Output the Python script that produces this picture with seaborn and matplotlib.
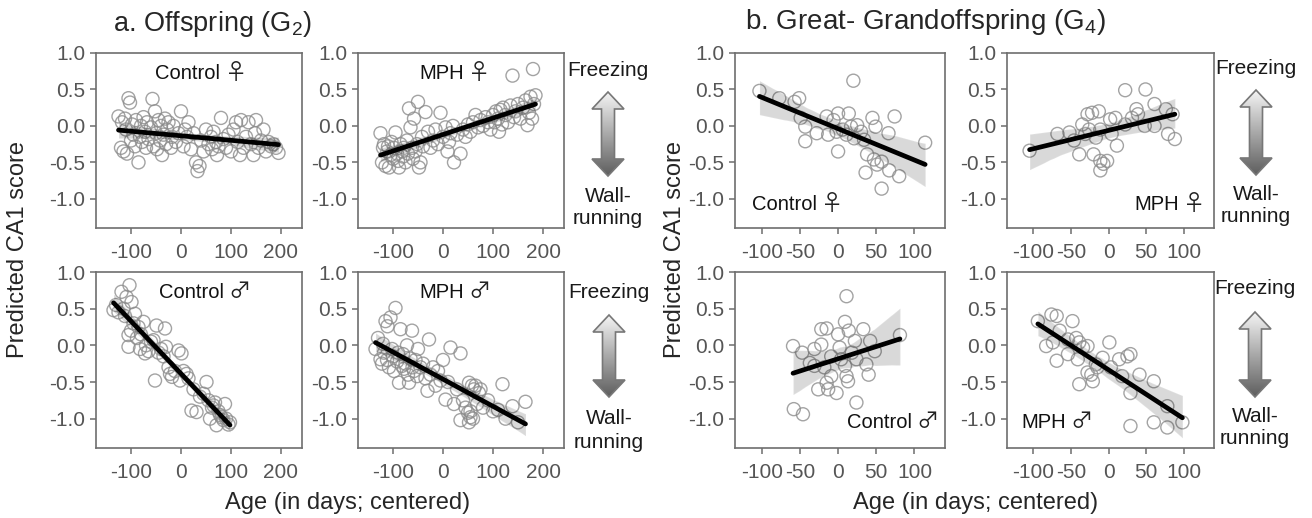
import numpy as np
import matplotlib
matplotlib.use("Agg")
import matplotlib.pyplot as plt
from matplotlib.colors import LinearSegmentedColormap
from matplotlib.patches import Polygon
from matplotlib.offsetbox import TextArea, HPacker, AnnotationBbox
import seaborn as sns

# ---- datos (edad centrada en dias, puntaje CA1 predicho) ----
# a. Offspring (G2)
g2_ctrl_f_x = [-125, -120, -118, -115, -112, -110, -108, -105, -102, -100,
               -98, -95, -92, -90, -85, -82, -80, -78, -75, -72,
               -70, -68, -65, -60, -57, -55, -52, -50, -48, -45,
               -42, -40, -38, -35, -32, -30, -28, -25, -20, -18,
               -15, -10, -5, 0, 5, 8, 12, 15, 20, 25,
               30, 33, 37, 40, 45, 50, 55, 60, 62, 65,
               70, 72, 75, 80, 85, 90, 95, 100, 105, 110,
               113, 118, 120, 125, 130, 135, 140, 145, 148, 150,
               155, 160, 165, 170, 175, 180, 185, 190, 195]
g2_ctrl_f_y = [0.13, -0.30, 0.05, -0.35, 0.10, -0.05, -0.38, 0.38, 0.32, -0.20,
               0.02, -0.12, -0.28, 0.08, -0.50, -0.15, 0.00, -0.22, 0.12, -0.08,
               -0.30, 0.05, -0.18, -0.02, 0.37, -0.28, 0.20, -0.10, -0.32, 0.08,
               -0.20, 0.00, -0.40, -0.12, 0.10, -0.25, -0.05, 0.05, -0.30, -0.15,
               0.00, -0.22, -0.10, 0.20, -0.28, -0.05, -0.15, 0.05, -0.32, -0.10,
               -0.50, -0.62, -0.55, -0.20, -0.35, -0.05, -0.25, -0.15, -0.32, -0.08,
               -0.22, -0.40, -0.28, 0.11, -0.18, -0.30, -0.12, -0.35, -0.05, 0.05,
               -0.22, -0.40, 0.08, -0.30, -0.15, 0.05, -0.25, -0.40, -0.10, 0.08,
               -0.30, -0.20, -0.05, -0.35, -0.22, -0.28, -0.25, -0.30, -0.37]

g2_mph_f_x = [-125, -122, -120, -118, -115, -112, -110, -108, -105, -103,
              -100, -98, -95, -92, -90, -88, -85, -82, -80, -78,
              -75, -72, -70, -68, -65, -62, -60, -58, -55, -52,
              -50, -48, -45, -42, -40, -35, -30, -25, -20, -15,
              -10, -5, 0, 5, 9, 12, 15, 20, 22, 28,
              35, 40, 45, 50, 55, 60, 65, 70, 75, 80,
              85, 90, 95, 100, 103, 106, 110, 112, 115, 118,
              120, 125, 130, 135, 139, 142, 145, 150, 155, 160,
              165, 169, 172, 175, 178, 180, 182, 185]
g2_mph_f_y = [-0.10, -0.50, -0.30, -0.25, -0.55, -0.35, -0.28, -0.57, -0.40, -0.22,
              -0.45, -0.30, -0.09, -0.38, -0.48, -0.57, -0.25, -0.35, -0.42, -0.30,
              -0.50, -0.20, -0.38, 0.24, -0.02, -0.30, -0.45, 0.10, -0.35, -0.25,
              0.33, -0.57, -0.50, -0.15, -0.28, 0.19, -0.08, -0.30, -0.20, -0.05,
              -0.25, 0.18, -0.15, -0.02, -0.35, -0.22, -0.10, 0.00, -0.50, -0.12,
              -0.38, -0.05, -0.15, 0.02, -0.08, 0.05, 0.15, -0.02, 0.08, 0.00,
              0.12, 0.05, -0.05, 0.15, 0.05, 0.20, 0.10, -0.08, 0.22, 0.02,
              0.25, 0.15, 0.05, 0.28, 0.69, 0.12, 0.20, 0.30, 0.10, 0.25,
              0.35, 0.01, 0.18, 0.40, 0.10, 0.78, 0.30, 0.42]

g2_ctrl_m_x = [-135, -130, -125, -119, -115, -112, -109, -105, -105, -103,
               -100, -99, -95, -92, -88, -85, -82, -80, -75, -72,
               -70, -65, -60, -55, -52, -49, -45, -40, -35, -32,
               -30, -25, -22, -18, -12, -5, -2, 1, 5, 11,
               15, 21, 25, 31, 38, 45, 51, 55, 58, 62,
               65, 68, 71, 75, 78, 81, 85, 88, 90, 95,
               98]
g2_ctrl_m_y = [0.48, 0.55, 0.45, 0.73, 0.50, 0.40, 0.66, 0.14, -0.02, 0.82,
               0.20, 0.59, 0.30, 0.43, 0.10, 0.25, -0.05, 0.15, 0.32, -0.11,
               0.00, -0.08, 0.05, 0.07, -0.48, 0.27, -0.10, -0.05, -0.15, 0.23,
               -0.02, -0.30, -0.39, -0.43, -0.35, -0.07, -0.48, -0.11, -0.35, -0.39,
               -0.45, -0.89, -0.60, -0.91, -0.70, -0.66, -0.50, -0.75, -1.00, -0.85,
               -0.82, -0.78, -1.09, -0.90, -0.95, -0.98, -1.02, -0.80, -1.00, -1.08,
               -1.05]

g2_mph_m_x = [-135, -130, -125, -122, -120, -118, -115, -112, -111, -108,
              -105, -102, -100, -98, -95, -92, -90, -88, -85, -82,
              -80, -78, -75, -72, -70, -68, -65, -62, -61, -58,
              -55, -52, -50, -45, -40, -35, -31, -28, -25, -20,
              -15, -10, -5, 0, 5, 10, 15, 22, 28, 35,
              35, 40, 45, 50, 52, 52, 55, 55, 58, 60,
              62, 65, 68, 72, 75, 80, 90, 100, 110, 119,
              125, 139, 150, 165]
g2_mph_m_y = [-0.05, 0.10, -0.19, -0.25, 0.02, -0.10, 0.33, -0.20, 0.26, -0.30,
              0.38, -0.05, -0.15, -0.35, 0.51, -0.22, -0.10, -0.51, 0.22, -0.28,
              -0.12, -0.32, -0.25, 0.00, -0.40, -0.51, -0.18, 0.20, -0.30, -0.35,
              -0.20, -0.42, -0.05, -0.30, -0.25, -0.45, -0.62, 0.08, -0.40, -0.30,
              -0.55, -0.35, -0.48, -0.20, -0.74, -0.50, -0.03, -0.80, -0.60, -0.11,
              -1.02, -0.75, -0.85, -0.92, -0.51, -1.05, -0.98, -0.90, -0.55, -1.00,
              -0.60, -0.55, -0.80, -0.65, -0.60, -0.85, -0.75, -0.90, -0.88, -0.53,
              -1.00, -0.83, -1.05, -0.77]

# b. Great- Grandoffspring (G4)
g4_ctrl_f_x = [-103, -77, -57, -51, -49, -43, -43, -28, -15, -13,
               -6, -2, 0, 0, 6, 11, 14, 17, 20, 21,
               25, 30, 34, 36, 38, 45, 47, 49, 51, 57,
               57, 66, 67, 74, 80, 114]
g4_ctrl_f_y = [0.48, 0.38, 0.33, 0.38, 0.11, -0.01, -0.21, -0.10, 0.13, -0.12,
               0.08, -0.08, 0.17, -0.35, -0.05, -0.12, 0.17, -0.01, 0.62, -0.17,
               0.01, -0.08, -0.19, -0.64, -0.39, 0.11, -0.46, -0.01, -0.53, -0.49,
               -0.86, -0.10, -0.61, 0.13, -0.69, -0.23]

g4_mph_f_x = [-105, -68, -52, -46, -39, -35, -31, -28, -26, -22,
              -20, -17, -13, -11, -11, -11, -7, -2, 2, 4,
              9, 11, 22, 22, 31, 37, 39, 48, 49, 61,
              61, 76, 79, 85, 88]
g4_mph_f_y = [-0.34, -0.11, -0.09, -0.20, -0.39, 0.02, -0.11, 0.16, -0.05, 0.18,
              -0.39, -0.16, 0.20, -0.48, -0.61, -0.05, -0.52, -0.48, 0.09, -0.11,
              0.11, -0.27, 0.49, 0.02, 0.11, 0.23, 0.16, 0.00, 0.50, 0.00,
              0.30, 0.23, -0.11, 0.16, -0.18]

g4_ctrl_m_x = [-59, -58, -47, -46, -37, -31, -31, -26, -22, -22,
               -18, -15, -15, -13, -9, -9, -2, 0, 2, 4,
               9, 9, 11, 11, 13, 14, 18, 22, 24, 24,
               33, 37, 40, 42, 48, 81]
g4_ctrl_m_y = [-0.01, -0.87, -0.10, -0.94, -0.24, -0.05, -0.28, -0.60, 0.01, 0.22,
               -0.30, 0.23, -0.51, -0.60, -0.15, -0.42, -0.65, 0.15, -0.03, -0.19,
               0.32, -0.28, 0.67, -0.42, -0.49, 0.20, -0.10, 0.06, -0.78, -0.19,
               0.22, -0.26, -0.40, 0.06, -0.08, 0.14]

g4_mph_m_x = [-94, -83, -76, -74, -69, -69, -65, -54, -54, -48,
              -43, -41, -39, -39, -34, -28, -28, -23, -21, -17,
              -15, -8, 1, 3, 14, 18, 25, 29, 29, 29,
              41, 60, 60, 78, 78, 98]
g4_mph_m_y = [0.33, -0.01, 0.42, 0.04, 0.40, -0.21, 0.20, 0.08, -0.12, 0.33,
              0.10, -0.19, 0.04, -0.53, -0.03, -0.37, -0.01, -0.40, -0.49, -0.26,
              -0.30, -0.17, 0.04, -0.30, -0.19, -0.42, -0.15, -0.12, -0.65, -1.10,
              -0.40, -0.49, -1.05, -0.83, -1.12, -1.05]

yticks = [-1.0, -0.5, 0.0, 0.5, 1.0]
ytick_labels = ['-1.0', '-0.5', '0.0', '0.5', '1.0']
xticks_g2 = [-100, 0, 100, 200]
xticks_g4 = [-100, -50, 0, 50, 100]

sns.set_style('ticks')
plt.rcParams['font.family'] = ['Liberation Sans', 'DejaVu Sans']
plt.rcParams['axes.unicode_minus'] = False

W, H = 1312, 518
fig = plt.figure(figsize=(W / 100, H / 100), dpi=100)


def caja(left, top, w, h):
    '''Convierte una caja en pixeles a fracciones de la figura'''
    return [left / W, 1 - (top + h) / H, w / W, h / H]


def etiqueta_sexo(ax, grupo, simbolo, pos, alin):
    '''Escribe el grupo y el simbolo de sexo (el simbolo en otra fuente, mas grande)'''
    t1 = TextArea(grupo, textprops=dict(fontsize=14.5, color='#111111'))
    t2 = TextArea(simbolo, textprops=dict(fontsize=16, color='#222222',
                                          family=['Noto Sans CJK JP', 'DejaVu Sans']))
    caja_txt = HPacker(children=[t1, t2], align='baseline', pad=0, sep=3)
    bx = {'left': 0.0, 'center': 0.5, 'right': 1.0}[alin]
    ab = AnnotationBbox(caja_txt, pos, xycoords='axes fraction', frameon=False,
                        box_alignment=(bx, 0.5), pad=0)
    ax.add_artist(ab)


# (x, y, caja en pixeles, xlim, xticks, grupo, simbolo, posicion del texto, alineacion)
paneles = [
    (g2_ctrl_f_x, g2_ctrl_f_y, (96, 53, 206, 175), (-170, 242), xticks_g2, 'Control', '♀', (0.51, 0.89), 'center'),
    (g2_mph_f_x, g2_mph_f_y, (358, 53, 206, 175), (-170, 242), xticks_g2, 'MPH', '♀', (0.47, 0.89), 'center'),
    (g2_ctrl_m_x, g2_ctrl_m_y, (96, 272, 206, 176), (-170, 242), xticks_g2, 'Control', '♂', (0.53, 0.89), 'center'),
    (g2_mph_m_x, g2_mph_m_y, (358, 272, 206, 176), (-170, 242), xticks_g2, 'MPH', '♂', (0.47, 0.89), 'center'),
    (g4_ctrl_f_x, g4_ctrl_f_y, (735, 53, 210, 175), (-135, 140), xticks_g4, 'Control', '♀', (0.08, 0.14), 'left'),
    (g4_mph_f_x, g4_mph_f_y, (1007, 53, 207, 175), (-135, 140), xticks_g4, 'MPH', '♀', (0.96, 0.14), 'right'),
    (g4_ctrl_m_x, g4_ctrl_m_y, (735, 272, 210, 176), (-135, 140), xticks_g4, 'Control', '♂', (0.97, 0.15), 'right'),
    (g4_mph_m_x, g4_mph_m_y, (1007, 272, 207, 176), (-135, 140), xticks_g4, 'MPH', '♂', (0.07, 0.15), 'left'),
]

for x, y, pix, xlim, xt, grupo, simbolo, pos, ha in paneles:
    ax = fig.add_axes(caja(*pix))
    sns.regplot(x=np.array(x), y=np.array(y), ax=ax, ci=99, seed=1,
                scatter_kws=dict(s=88, facecolors='none', edgecolors='#8c8c8c', linewidths=1.0),
                line_kws=dict(color='black', lw=3.4))
    ax.set_xlim(*xlim)
    ax.set_ylim(-1.4, 1.0)
    ax.set_xticks(xt)
    ax.set_xticklabels([str(v) for v in xt])
    ax.set_yticks(yticks)
    ax.set_yticklabels(ytick_labels)
    for s in ax.spines.values():
        s.set_visible(True)
        s.set_color('#6e6e6e')
        s.set_linewidth(1.2)
    ax.tick_params(colors='#6e6e6e', labelcolor='#555555', labelsize=15, length=4.5, width=1.1)
    ax.tick_params(axis='x', pad=6)
    ax.tick_params(axis='y', pad=3)
    ax.set_xlabel('')
    ax.set_ylabel('')
    etiqueta_sexo(ax, grupo, simbolo, pos, ha)

# capa superior en pixeles para titulos, flechas y textos sueltos
ov = fig.add_axes([0, 0, 1, 1])
ov.set_xlim(0, W)
ov.set_ylim(H, 0)
ov.axis('off')
ov.patch.set_alpha(0)

ov.text(113, 24, r'a. Offspring (G$_\mathregular{2}$)', fontsize=19.5, ha='left', va='center')
ov.text(745, 22, r'b. Great- Grandoffspring (G$_\mathregular{4}$)', fontsize=20, ha='left', va='center')

for xc in [18, 675]:
    ov.text(xc, 250, 'Predicted CA1 score', rotation=90, fontsize=17, ha='center', va='center')
for xc in [348, 976]:
    ov.text(xc, 503, 'Age (in days; centered)', fontsize=17, ha='center', va='center')

gris = LinearSegmentedColormap.from_list('flecha', ['#f4f4f4', '#5e5e5e'])


def flecha(cx, y0, y1, hw=16, sw=6.5, hl=17):
    '''Flecha vertical doble con degradado'''
    pts = [(cx, y0), (cx + hw, y0 + hl), (cx + sw, y0 + hl), (cx + sw, y1 - hl),
           (cx + hw, y1 - hl), (cx, y1), (cx - hw, y1 - hl), (cx - sw, y1 - hl),
           (cx - sw, y0 + hl), (cx - hw, y0 + hl)]
    poly = Polygon(pts, closed=True, facecolor='none', edgecolor='#777777', lw=1.2, zorder=3)
    ov.add_patch(poly)
    grad = np.linspace(0, 1, 200).reshape(-1, 1)
    im = ov.imshow(grad, cmap=gris, extent=(cx - hw, cx + hw, y1, y0), aspect='auto', zorder=2)
    im.set_clip_path(poly)


# (centro x, Freezing y, flecha arriba, flecha abajo, Wall- y, running y)
flechas = [(608, 70, 92, 176, 197, 219),
           (1256, 68, 90, 175, 194, 216),
           (609, 292, 315, 397, 419, 443),
           (1255, 288, 312, 397, 416, 439)]
for cx, yf, ya, yb, yw, yr in flechas:
    ov.text(cx, yf, 'Freezing', fontsize=15, ha='center', va='center', color='#1a1a1a')
    flecha(cx, ya, yb)
    ov.text(cx, yw, 'Wall-', fontsize=15, ha='center', va='center', color='#1a1a1a')
    ov.text(cx, yr, 'running', fontsize=15, ha='center', va='center', color='#1a1a1a')

ov.set_xlim(0, W)
ov.set_ylim(H, 0)

fig.savefig('out.png', dpi=100)
